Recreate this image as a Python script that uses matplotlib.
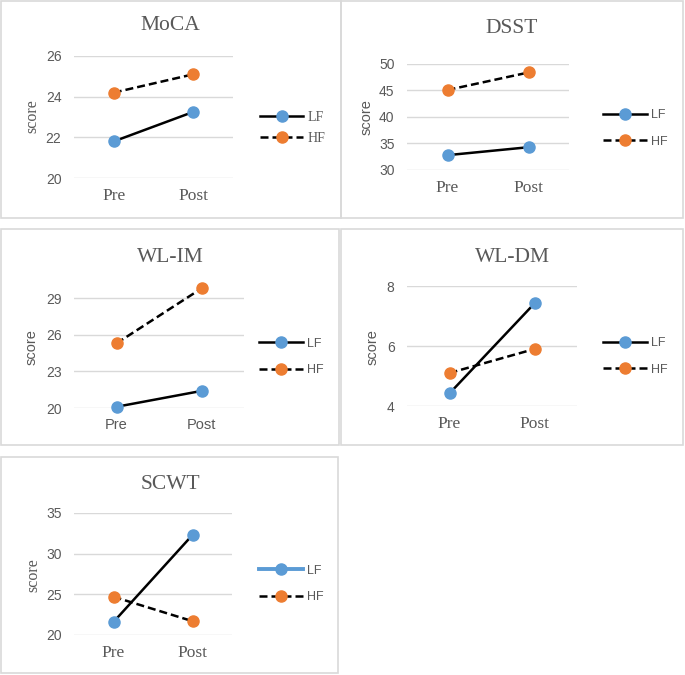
import matplotlib
matplotlib.use('Agg')
import matplotlib.pyplot as plt
from matplotlib.lines import Line2D
from matplotlib.patches import Rectangle

# data
times = ['Pre', 'Post']
tests = ['MoCA', 'DSST', 'WL-IM', 'WL-DM', 'SCWT']

lf_moca = [21.8, 23.25]
hf_moca = [24.2, 25.1]
lf_dsst = [32.8, 34.3]
hf_dsst = [45.1, 48.4]
lf_wlim = [20.1, 21.4]
hf_wlim = [25.3, 29.8]
lf_wldm = [4.42, 7.42]
hf_wldm = [5.1, 5.9]
lf_scwt = [21.6, 32.3]
hf_scwt = [24.7, 21.7]

ticks_moca = [20, 22, 24, 26]
ticks_dsst = [30, 35, 40, 45, 50]
ticks_wlim = [20, 23, 26, 29]
ticks_wldm = [4, 6, 8]
ticks_scwt = [20, 25, 30, 35]

W, H = 685, 675
BLUE = '#5B9BD5'
ORANGE = '#ED7D31'
TXT = '#595959'
GRID = '#D9D9D9'
SERIF = 'Liberation Serif'
SANS = 'Liberation Sans'

fig = plt.figure(figsize=(W / 100, H / 100), dpi=100)


def fx(px):
    return px / W


def fy(py):
    return 1 - py / H


# panel boxes in pixels (left, top, right, bottom)
boxes = [(1, 1, 341, 218), (341, 1, 683, 218), (1, 229, 339, 445),
         (341, 229, 683, 445), (1, 457, 338, 673)]
for l, t, r, b in boxes:
    fig.patches.append(Rectangle((fx(l), fy(b)), fx(r - l), (b - t) / H,
                                 transform=fig.transFigure, fill=False,
                                 edgecolor=GRID, lw=1.2))


def panel(rect, lf, hf, ticks, ylim, title, title_xy, ylab_xy, leg_xy,
          xfont, ylabfont, legfont, blue_lf_legend=False):
    l, t, r, b = rect
    ax = fig.add_axes([fx(l), fy(b), fx(r - l), (b - t) / H])
    x = range(len(times))
    ax.plot(x, lf, color='black', lw=1.8, marker='o', ms=8,
            mfc=BLUE, mec=BLUE, clip_on=False, zorder=3)
    ax.plot(x, hf, color='black', lw=1.8, ls=(0, (3.2, 1.6)), marker='o',
            ms=8, mfc=ORANGE, mec=ORANGE, clip_on=False, zorder=3)
    ax.set_xlim(-0.5, len(times) - 0.5)
    ax.set_ylim(*ylim)
    ax.set_yticks(ticks)
    ax.set_xticks(list(x))
    ax.set_xticklabels(times)
    for s in ax.spines.values():
        s.set_visible(False)
    ax.grid(axis='y', color=GRID, lw=1)
    ax.set_axisbelow(True)
    ax.tick_params(length=0, colors=TXT)
    ax.tick_params(axis='y', pad=9)
    ax.tick_params(axis='x', pad=7)
    for lab in ax.get_yticklabels():
        lab.set_fontfamily(SANS)
        lab.set_fontsize(10)
    for lab in ax.get_xticklabels():
        if xfont == 'serif':
            lab.set_fontfamily(SERIF)
            lab.set_fontsize(12.5)
        else:
            lab.set_fontfamily(SANS)
            lab.set_fontsize(10.5)

    fig.text(fx(title_xy[0]), fy(title_xy[1]), title, family=SERIF,
             fontsize=15.5, color=TXT, ha='center', va='baseline')
    if ylabfont == 'serif':
        fig.text(fx(ylab_xy[0]), fy(ylab_xy[1]), 'score', family=SERIF,
                 fontsize=11.5, color=TXT, rotation=90, ha='center', va='center')
    else:
        fig.text(fx(ylab_xy[0]), fy(ylab_xy[1]), 'score', family=SANS,
                 fontsize=10.5, color=TXT, rotation=90, ha='center', va='center')

    lf_col = BLUE if blue_lf_legend else 'black'
    lf_lw = 2.8 if blue_lf_legend else 1.8
    h1 = Line2D([], [], color=lf_col, lw=lf_lw, marker='o', ms=8,
                mfc=BLUE, mec=BLUE)
    h2 = Line2D([], [], color='black', lw=1.8, ls=(0, (3.2, 1.6)), marker='o',
                ms=8, mfc=ORANGE, mec=ORANGE)
    if legfont == 'serif':
        prop = {'family': SERIF, 'size': 10}
        spacing = 0.6
        hl = 3.1
    else:
        prop = {'family': SANS, 'size': 9}
        spacing = 1.15
        hl = 3.5
    leg = ax.legend([h1, h2], ['LF', 'HF'], loc='center left',
                    bbox_to_anchor=(fx(leg_xy[0]), fy(leg_xy[1])),
                    bbox_transform=fig.transFigure, frameon=False, prop=prop,
                    handlelength=hl, handletextpad=0.3, labelspacing=spacing,
                    borderpad=0, borderaxespad=0)
    for txt in leg.get_texts():
        txt.set_color(TXT)
    return ax


panel((74, 56, 233, 178), lf_moca, hf_moca, ticks_moca, (20, 26), tests[0],
      (170, 30), (32, 116), (260, 128), 'serif', 'serif', 'serif')
panel((407, 64, 569, 170), lf_dsst, hf_dsst, ticks_dsst, (30, 50), tests[1],
      (512, 33), (367, 117), (603, 128.5), 'serif', 'sans', 'sans')
panel((74, 286, 244, 408), lf_wlim, hf_wlim, ticks_wlim, (20, 30), tests[2],
      (170, 262), (32, 347), (259, 357), 'sans', 'sans', 'sans')
panel((407, 286, 577, 406), lf_wldm, hf_wldm, ticks_wldm, (4, 8), tests[3],
      (512, 262.5), (373, 347), (603, 356.5), 'serif', 'sans', 'sans')
panel((74, 513, 232, 635), lf_scwt, hf_scwt, ticks_scwt, (20, 35), tests[4],
      (170, 489), (33, 575), (259, 584), 'serif', 'serif', 'sans',
      blue_lf_legend=True)

fig.savefig('out.png', dpi=100)
